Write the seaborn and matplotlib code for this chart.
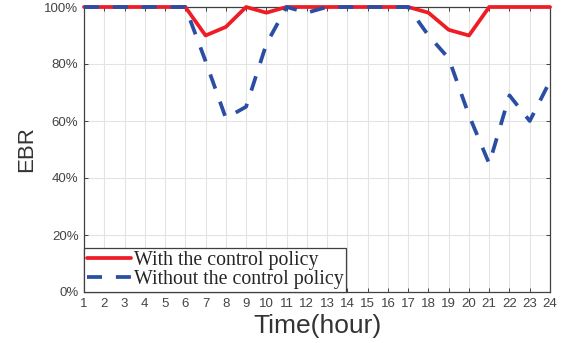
import numpy as np
import pandas as pd
import matplotlib
matplotlib.use("Agg")
import matplotlib.pyplot as plt
import seaborn as sns
from matplotlib.ticker import FuncFormatter
from matplotlib.lines import Line2D

hours = list(range(1, 25))
with_policy = [100, 100, 100, 100, 100, 100, 90, 93, 100, 98, 100, 100,
               100, 100, 100, 100, 100, 98, 92, 90, 100, 100, 100, 100]
without_policy = [100, 100, 100, 100, 100, 100, 81, 61, 65, 87, 100, 98,
                  100, 100, 100, 100, 100, 90, 82, 62, 45, 69, 60, 74]
series_names = ["With the control policy", "Without the control policy"]
y_ticks = [0, 20, 40, 60, 80, 100]

df = pd.DataFrame({
    "hour": hours * 2,
    "ebr": with_policy + without_policy,
    "series": [series_names[0]] * len(hours) + [series_names[1]] * len(hours),
})

sns.set_style("white")
fig = plt.figure(figsize=(5.66, 3.43), dpi=100)
ax = fig.add_axes([84 / 566, 51 / 343, 466 / 566, 285 / 343])

RED = "#ee1c25"
BLUE = "#2a4ea3"
LW = 2.7
DASH = (4.0, 3.7)
palette = {series_names[0]: RED, series_names[1]: BLUE}
sns.lineplot(data=df, x="hour", y="ebr", hue="series", style="series",
             hue_order=series_names, palette=palette,
             dashes={series_names[0]: "", series_names[1]: DASH},
             linewidth=LW, ax=ax, legend=False)
for i, ln in enumerate(ax.get_lines()):
    ln.set_clip_on(False)
    ln.set_zorder(3 + i)

ax.set_xlim(1, 24)
ax.set_ylim(0, 100)
ax.set_xticks(hours)
ax.set_yticks(y_ticks)
ax.yaxis.set_major_formatter(FuncFormatter(lambda v, p: f"{int(v)}%"))
ax.grid(True, color="#e3e3e3", linewidth=0.8)
ax.set_axisbelow(True)
for s in ax.spines.values():
    s.set_color("#404040")
    s.set_linewidth(0.9)
    s.set_visible(True)
    s.set_zorder(2.5)
ax.tick_params(direction="in", length=3, width=0.7, color="#404040",
               labelsize=9.5, labelcolor="#444444", top=True, right=True,
               left=True, bottom=True, pad=4)
for lab in ax.get_xticklabels() + ax.get_yticklabels():
    lab.set_fontfamily("Liberation Sans")

ax.set_xlabel("Time(hour)", fontsize=19, color="#333333", family="Liberation Sans", labelpad=3)
ax.set_ylabel("EBR", fontsize=16, color="#333333", family="Liberation Sans", labelpad=5)

handles = [Line2D([], [], color=RED, lw=LW),
           Line2D([], [], color=BLUE, lw=LW, linestyle=(0, DASH))]
leg = ax.legend(handles, series_names, loc="lower left", bbox_to_anchor=(0, 0),
                borderaxespad=0, frameon=True, fancybox=False, handlelength=2.2,
                handletextpad=0.15, labelspacing=0.0, borderpad=0.15,
                prop={"family": "Liberation Serif", "size": 14.3})
leg.get_frame().set_edgecolor("#404040")
leg.get_frame().set_linewidth(0.9)
leg.get_frame().set_alpha(1)
leg.set_zorder(10)

fig.savefig("out.png", dpi=100)
